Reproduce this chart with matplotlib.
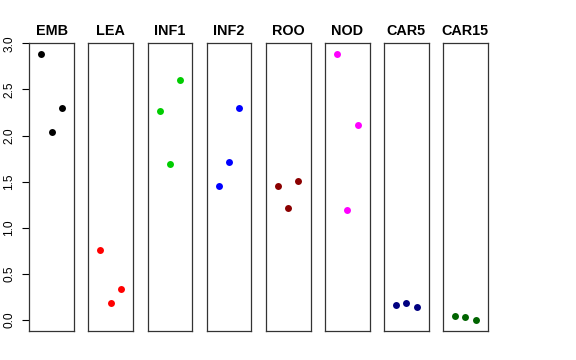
import matplotlib
matplotlib.use("Agg")
import matplotlib.pyplot as plt

# values, three replicates per tissue
tissues = ["EMB", "LEA", "INF1", "INF2", "ROO", "NOD", "CAR5", "CAR15"]
emb = [2.885, 2.04, 2.30]
lea = [0.76, 0.19, 0.34]
inf1 = [2.27, 1.69, 2.60]
inf2 = [1.45, 1.71, 2.30]
roo = [1.455, 1.215, 1.51]
nod = [2.885, 1.19, 2.12]
car5 = [0.165, 0.18, 0.14]
car15 = [0.045, 0.03, 0.0]
colors = ["black", "red", "#00CD00", "blue", "#8B0000", "magenta", "#000080", "#006400"]
yticks = [0.0, 0.5, 1.0, 1.5, 2.0, 2.5, 3.0]

values = [emb, lea, inf1, inf2, roo, nod, car5, car15]

plt.rcParams["font.family"] = ["Liberation Sans", "DejaVu Sans"]

W, H = 576, 360
fig = plt.figure(figsize=(W / 100, H / 100), dpi=100)

# R-style range: data span plus 4% each side
all_y = [v for vals in values for v in vals]
lo, hi = min(all_y), max(all_y)
ext = (hi - lo) * 0.04
ylim = (lo - ext, hi + ext)

left0, step, width = 29.3, 59.1, 44.8
top, bottom = 43.3, 330.7

for i, (name, vals, col) in enumerate(zip(tissues, values, colors)):
    ax = fig.add_axes([(left0 + i * step) / W, 1 - bottom / H,
                       width / W, (bottom - top) / H])
    x = list(range(1, len(vals) + 1))
    ax.plot(x, vals, "o", color=col, markersize=5, markeredgewidth=0)
    ax.set_xlim(-0.16, 4.16)
    ax.set_ylim(*ylim)
    ax.set_xticks([])
    ax.set_title(name, fontsize=10.4, fontweight="bold", pad=6)
    for s in ax.spines.values():
        s.set_linewidth(0.9)
        s.set_color("#333333")
    if i == 0:
        ax.set_yticks(yticks)
        ax.set_yticklabels([f"{t:.1f}" for t in yticks], rotation=90,
                           va="center", fontsize=8.6)
        ax.tick_params(axis="y", length=5, width=0.8, pad=5)
    else:
        ax.set_yticks([])

fig.savefig("out.png", dpi=100)
